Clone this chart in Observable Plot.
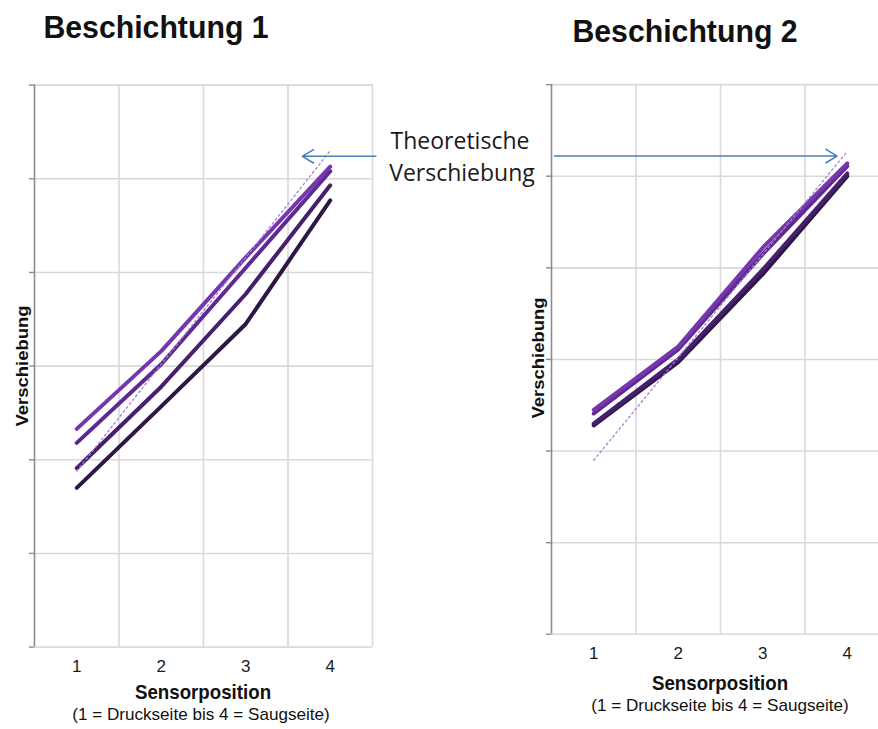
<!DOCTYPE html>
<html>
<head>
<meta charset="utf-8">
<script src="https://cdn.jsdelivr.net/npm/d3@7"></script>
<script src="https://cdn.jsdelivr.net/npm/@observablehq/plot@0.6"></script>
<style>
html, body { margin: 0; padding: 0; background: #fff; overflow: hidden; }
#wrap { position: relative; width: 878px; height: 729px; overflow: hidden; background: #fff;
  font-family: "Liberation Sans", Arial, sans-serif; color: #111; }
.plotbox { position: absolute; top: 0; }
.lbl { position: absolute; white-space: nowrap; line-height: 1; z-index: 5; }
</style>
</head>
<body>
<div id="wrap"></div>
<script>
// ---------- data ----------
const positions = [1, 2, 3, 4];
const seriesNames = ["Reihe 1", "Reihe 2", "Reihe 3", "Reihe 4"];
const seriesColors = ["#7636ad", "#5e2a91", "#46206e", "#2e1647"];
const yTicks = [0, 1, 2, 3, 4, 5, 6];
const xGridBounds = [1.5, 2.5, 3.5, 4.5];

// Beschichtung 1
const b1_reihe1 = [2.33, 3.16, 4.16, 5.13];
const b1_reihe2 = [2.18, 3.02, 4.05, 5.08];
const b1_reihe3 = [1.91, 2.78, 3.77, 4.93];
const b1_reihe4 = [1.70, 2.57, 3.45, 4.77];
const b1_theoryX = [1, 4];
const b1_theory = [1.88, 5.30];
const b1_arrow = { x1: 4.54, x2: 3.67, y: 5.24 };

// Beschichtung 2
const b2_reihe1 = [2.45, 3.14, 4.22, 5.14];
const b2_reihe2 = [2.41, 3.11, 4.15, 5.11];
const b2_reihe3 = [2.30, 3.00, 3.98, 5.03];
const b2_reihe4 = [2.28, 2.97, 3.93, 5.00];
const b2_theoryX = [1, 4];
const b2_theory = [1.90, 5.27];
const b2_arrow = { x1: 0.535, x2: 3.88, y: 5.22 };

// texts
const titles = ["Beschichtung 1", "Beschichtung 2"];
const yLabel = "Verschiebung";
const xLabel = "Sensorposition";
const xSubLabel = "(1 = Druckseite bis 4 = Saugseite)";
const annotationLines = ["Theoretische", "Verschiebung"];

// ---------- build ----------
function makeChart(seriesList, theoryX, theoryY, arrow, layout) {
  const rows = [];
  // draw darkest first so lighter lines sit on top
  for (let i = seriesList.length - 1; i >= 0; i--) {
    seriesList[i].forEach((v, j) => rows.push({ s: seriesNames[i], x: positions[j], y: v }));
  }
  const theoryRows = theoryX.map((x, i) => ({ x, y: theoryY[i] }));
  return Plot.plot({
    width: layout.width,
    height: layout.height,
    marginTop: layout.mt,
    marginBottom: layout.mb,
    marginLeft: layout.ml,
    marginRight: layout.mr,
    style: { background: "transparent", overflow: "visible", maxWidth: "none",
             fontSize: "17px", fontFamily: "Liberation Sans, Arial, sans-serif", color: "#1a1a1a" },
    x: { type: "linear", domain: [0.5, 4.5] },
    y: { domain: [0, 6] },
    color: { domain: seriesNames, range: seriesColors },
    marks: [
      Plot.ruleY(yTicks, { stroke: "#d9d9d9", strokeWidth: 1.6 }),
      Plot.ruleX(xGridBounds, { stroke: "#d9d9d9", strokeWidth: 1.6 }),
      Plot.ruleX([0.5], { stroke: "#8c8c8c", strokeWidth: 1.6 }),
      Plot.axisY(yTicks, { tickSize: 5, tickFormat: () => "", stroke: "#8c8c8c", strokeWidth: 1.4, label: null }),
      Plot.axisX(positions, { tickSize: 0, tickPadding: 13, label: null, fill: "#1a1a1a" }),
      Plot.line(rows, { x: "x", y: "y", z: "s", stroke: "s", strokeWidth: 4,
                        strokeLinecap: "round", strokeLinejoin: "round" }),
      Plot.line(theoryRows, { x: "x", y: "y", stroke: "#a27fd8", strokeWidth: 1.3, strokeDasharray: "2,3" }),
      Plot.arrow([arrow], { x1: "x1", x2: "x2", y1: "y", y2: "y", stroke: "#4a7ebb",
                            strokeWidth: 1.5, headLength: 13, headAngle: 62 })
    ]
  });
}

const wrap = document.getElementById("wrap");

const chart1 = makeChart([b1_reihe1, b1_reihe2, b1_reihe3, b1_reihe4], b1_theoryX, b1_theory, b1_arrow,
  { width: 470, height: 729, mt: 84.6, mb: 729 - 646.6, ml: 34, mr: 470 - 372 });
const box1 = document.createElement("div");
box1.className = "plotbox"; box1.style.left = "0px";
box1.appendChild(chart1); wrap.appendChild(box1);

const chart2 = makeChart([b2_reihe1, b2_reihe2, b2_reihe3, b2_reihe4], b2_theoryX, b2_theory, b2_arrow,
  { width: 430, height: 729, mt: 84.1, mb: 729 - 633.8, ml: 551 - 470, mr: 430 - (889 - 470) });
const box2 = document.createElement("div");
box2.className = "plotbox"; box2.style.left = "470px";
box2.appendChild(chart2); wrap.appendChild(box2);

function label(text, cx, cy, css, transform) {
  const d = document.createElement("div");
  d.className = "lbl";
  d.textContent = text;
  d.style.left = cx + "px";
  d.style.top = cy + "px";
  Object.assign(d.style, css);
  d.style.transform = "translate(-50%, -50%) " + (transform || "");
  wrap.appendChild(d);
}

const titleCss = { fontSize: "27px", fontWeight: "bold" };
label(titles[0], 156, 28, titleCss, "scale(1.12, 1.15)");
label(titles[1], 685, 32, titleCss, "scale(1.12, 1.15)");

const yCss = { fontSize: "15px", fontWeight: "bold" };
label(yLabel, 21.5, 366, yCss, "rotate(-90deg) scale(1.23, 1.05)");
label(yLabel, 538, 358, yCss, "rotate(-90deg) scale(1.23, 1.05)");

const xCss = { fontSize: "17px", fontWeight: "bold" };
const subCss = { fontSize: "15px" };
label(xLabel, 203, 693, xCss, "scale(1.1, 1.15)");
label(xSubLabel, 201, 714, subCss, "scale(1.14, 1.12)");
label(xLabel, 719.5, 684, xCss, "scale(1.1, 1.15)");
label(xSubLabel, 719.5, 705, subCss, "scale(1.14, 1.12)");

const annCss = { fontSize: "23px", fontFamily: "'Open Sans', 'Noto Sans', sans-serif", color: "#1a1a1a" };
label(annotationLines[0], 460, 140, annCss);
label(annotationLines[1], 462, 172, annCss);
</script>
</body>
</html>
